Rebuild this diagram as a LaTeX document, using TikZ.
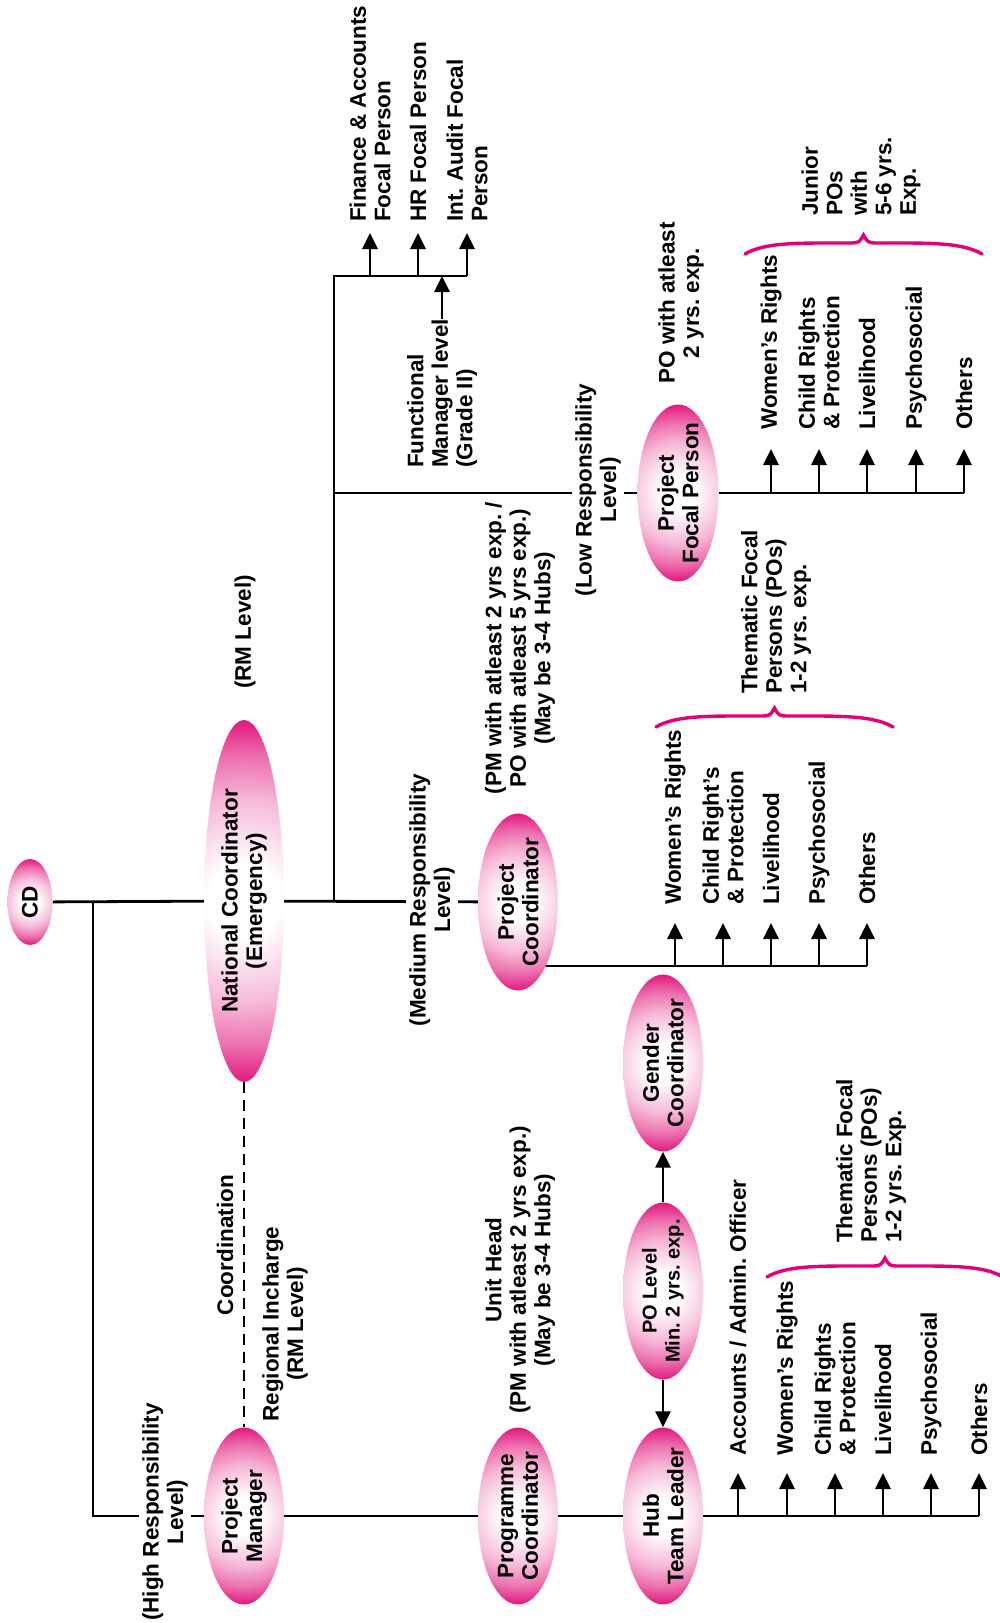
\documentclass[tikz,border=0pt]{standalone}
\usepackage{fontspec}
\setmainfont{Liberation Sans}
\usetikzlibrary{shapes.geometric,arrows.meta,calc,backgrounds}
\definecolor{pinkC}{RGB}{226,24,125}
\definecolor{braceC}{RGB}{228,0,124}
\pgfdeclareradialshading{pinkglow}{\pgfpoint{0bp}{0bp}}{color(0bp)=(white); color(5bp)=(white); color(14bp)=(pinkC!30!white); color(20bp)=(pinkC!62!white); color(25bp)=(pinkC); color(50bp)=(pinkC)}
\newcommand{\labfont}{\fontsize{22.5}{24.5}\selectfont\bfseries}
\newcommand{\smallfontpo}{\fontsize{20}{23}\selectfont\bfseries}
\newcommand{\mybrace}[2]{\draw[brc] (#1) .. controls +(20,-12) and +(-50,0) .. ($(#1)!0.5!(#2)+(-14,-11)$) .. controls +(10,0) and +(-4,7) .. ($(#1)!0.5!(#2)+(0,-19)$) .. controls +(4,7) and +(-10,0) .. ($(#1)!0.5!(#2)+(14,-11)$) .. controls +(50,0) and +(-20,-12) .. (#2);}
\begin{document}
\frenchspacing
\begin{tikzpicture}[x=1pt,y=-1pt,
  ell/.style 2 args={ellipse, minimum width=#1, minimum height=#2, inner sep=0pt, draw=none,
    path picture={\shade[shading=pinkglow] (path picture bounding box.center) circle [radius=0.5*#2];}},
  etxt/.style={rotate=90, align=center, font=\labfont, inner sep=0pt},
  lbl/.style={rotate=90, align=left, font=\labfont, inner sep=0pt, anchor=west},
  ctr/.style={rotate=90, align=center, font=\labfont, inner sep=0pt},
  brk/.style={rotate=90, align=center, font=\labfont, inner sep=3pt, fill=white},
  conn/.style={line width=2.8pt},
  arr/.style={line width=2.8pt, -{Triangle[width=15pt,length=16pt]}},
  dsh/.style={line width=2.3pt, dash pattern=on 11pt off 7pt},
  brc/.style={line width=3.4pt, draw=braceC, line cap=round},
]
\useasboundingbox (0,0) rectangle (1000,1623);

% ellipses
\node[ell={45pt}{86pt}] (CD) at (30,902) {};
\node[etxt] (CDt) at (CD) {CD};
\node[ell={80pt}{362pt}] (NC) at (244,901) {};
\node[etxt] (NCt) at (NC) {National Coordinator\\(Emergency)};
\node[ell={80pt}{177pt}] (PC) at (518,902) {};
\node[etxt] (PCt) at (PC) {Project\\Coordinator};
\node[ell={81pt}{177pt}] (PFP) at (678,493) {};
\node[etxt] (PFPt) at (PFP) {Project\\Focal Person};
\node[ell={80pt}{177pt}] (PM) at (244,1516) {};
\node[etxt] (PMt) at (PM) {Project\\Manager};
\node[ell={80pt}{177pt}] (PrC) at (518,1516) {};
\node[etxt] (PrCt) at (PrC) {Programme\\Coordinator};
\node[ell={80pt}{177pt}] (Hub) at (663,1516) {};
\node[etxt] (Hubt) at (Hub) {Hub\\Team Leader};
\node[ell={80pt}{177pt}] (PO) at (663,1291) {};
\node[etxt, font=\smallfontpo] (POt) at (PO) {PO Level\\Min. 2 yrs. exp.};
\node[ell={80pt}{177pt}] (GC) at (663,1063) {};
\node[etxt] (GCt) at (GC) {Gender\\Coordinator};

% line-breaking labels
\node[brk] (medL) at (432,900) {(Medium Responsibility\\Level)};
\node[brk] (lowL) at (598,490) {(Low Responsibility\\Level)};
\node[brk] (highL) at (165,1512) {(High Responsibility\\Level)};

% free labels
\node[ctr] (rm) at (245,632) {(RM Level)};
\node[ctr] (pmw) at (520,648) {(PM with atleast 2 yrs exp. /\\PO with atleast 5 yrs exp.)\\(May be 3-4 Hubs)};
\node[ctr] (coord) at (225,1245) {Coordination};
\node[ctr] (ri) at (285,1324) {Regional Incharge\\(RM Level)};
\node[ctr] (uh) at (520,1270) {Unit Head\\(PM with atleast 2 yrs exp.)\\(May be 3-4 Hubs)};
\node[ctr] (poa) at (681,303) {PO with atleast\\2 yrs. exp.};
\node[lbl] (fm) at (442,468) {Functional\\Manager level\\(Grade II)};
\node[lbl] (fin) at (370,222) {Finance \& Accounts\\Focal Person};
\node[lbl] (hr) at (418,222) {HR Focal Person};
\node[lbl] (ia) at (467,222) {Int. Audit Focal\\Person};
\node[lbl] (jun) at (861,216) {Junior\\POs\\with\\5-6 yrs.\\Exp.};
\node[lbl] (th1) at (776,694) {Thematic Focal\\Persons (POs)\\1-2 yrs. exp.};
\node[lbl] (th2) at (871,1243) {Thematic Focal\\Persons (POs)\\1-2 yrs. Exp.};

% branch labels: project focal person
\node[lbl] (a1) at (771,430) {Women’s Rights};
\node[lbl] (a2) at (819,430) {Child Rights\\\& Protection};
\node[lbl] (a3) at (867,430) {Livelihood};
\node[lbl] (a4) at (916,430) {Psychosocial};
\node[lbl] (a5) at (964,430) {Others};
% branch labels: project coordinator
\node[lbl] (b1) at (675,905) {Women’s Rights};
\node[lbl] (b2) at (723,905) {Child Right’s\\\& Protection};
\node[lbl] (b3) at (771,905) {Livelihood};
\node[lbl] (b4) at (819,905) {Psychosocial};
\node[lbl] (b5) at (867,905) {Others};
% branch labels: hub
\node[lbl] (c1) at (738,1456) {Accounts / Admin. Officer};
\node[lbl] (c2) at (787,1456) {Women’s Rights};
\node[lbl] (c3) at (835,1456) {Child Rights\\\& Protection};
\node[lbl] (c4) at (883,1456) {Livelihood};
\node[lbl] (c5) at (931,1456) {Psychosocial};
\node[lbl] (c6) at (979,1456) {Others};

% junction coordinates
\coordinate (j1) at (93,902);
\coordinate (j2) at (93,1516);
\coordinate (j3) at (334,902);
\coordinate (j4) at (334,493);
\coordinate (j5) at (334,276);
\coordinate (j6) at (467,276);
\coordinate (pfpE) at (964,493);
\coordinate (pcb) at (518,966);
\coordinate (pcE) at (867,966);
\coordinate (hubE) at (979,1516);

\begin{scope}[on background layer]
\draw[conn] (CD) -- (NC);
\draw[conn] (NC) -- (PC);
\draw[conn] (j1) -- (j2) -- (PM);
\draw[conn] (PM) -- (PrC);
\draw[conn] (PrC) -- (Hub);
\draw[conn] (Hub) -- (hubE);
\draw[conn] (j3) -- (j5) -- (j6);
\draw[conn] (j4) -- (PFP);
\draw[conn] (PFP) -- (pfpE);
\draw[conn] (pcb) -- (pcE);
\draw[dsh] (NC) -- (PM);
\end{scope}

% arrows
\draw[arr] (PO) -- (Hub);
\draw[arr] (PO) -- (GC);
\draw[arr] (fm.east) -- (fm.east |- j5);
\foreach \n in {fin,hr,ia} \draw[arr] (\n.west |- j5) -- ($(\n.west)+(0,11)$);
\foreach \n in {a1,a2,a3,a4,a5} \draw[arr] (\n.west |- pfpE) -- ($(\n.west)+(0,19)$);
\foreach \n in {b1,b2,b3,b4,b5} \draw[arr] (\n.west |- pcE) -- ($(\n.west)+(0,18)$);
\foreach \n in {c1,c2,c3,c4,c5,c6} \draw[arr] (\n.west |- hubE) -- ($(\n.west)+(0,17)$);

% braces
\coordinate (bL1) at (745,254); \coordinate (bR1) at (982,254);
\coordinate (bL2) at (656,727); \coordinate (bR2) at (893,727);
\coordinate (bL3) at (767,1277); \coordinate (bR3) at (1003,1277);
\mybrace{bL1}{bR1}
\mybrace{bL2}{bR2}
\mybrace{bL3}{bR3}
\end{tikzpicture}
\end{document}
